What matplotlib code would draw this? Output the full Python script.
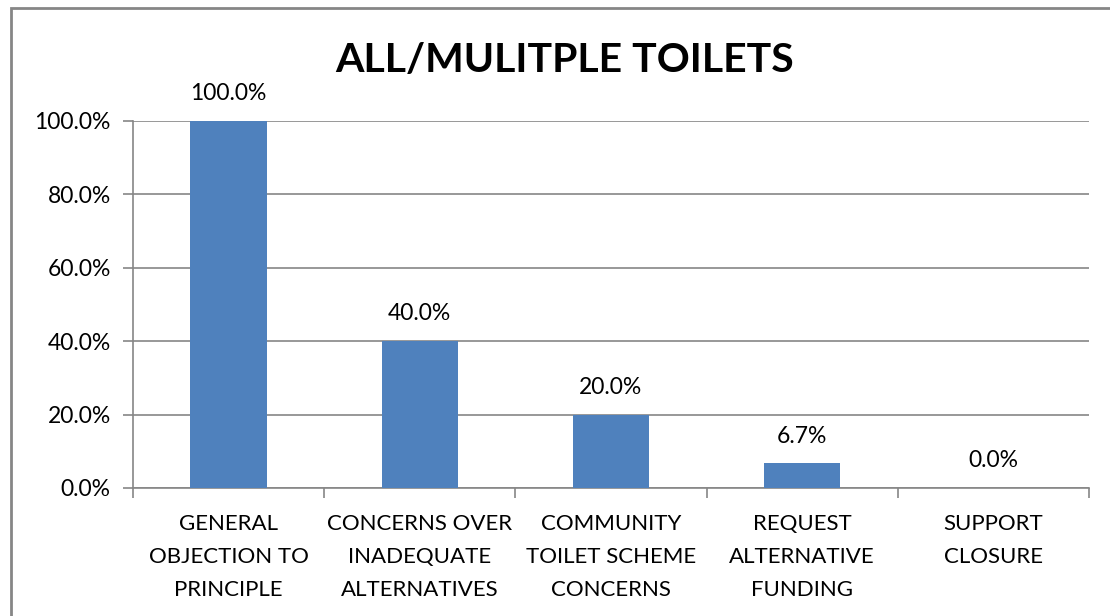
import matplotlib
matplotlib.use("Agg")
import matplotlib.pyplot as plt
from matplotlib.patches import Rectangle
import numpy as np

plt.rcParams['font.family'] = ['Lato', 'DejaVu Sans']

categories = ["GENERAL\nOBJECTION TO\nPRINCIPLE",
              "CONCERNS OVER\nINADEQUATE\nALTERNATIVES",
              "COMMUNITY\nTOILET SCHEME\nCONCERNS",
              "REQUEST\nALTERNATIVE\nFUNDING",
              "SUPPORT\nCLOSURE"]
values = [100.0, 40.0, 20.0, 6.7, 0.0]
yticks = [0, 20, 40, 60, 80, 100]

W, H = 1110, 616
fig = plt.figure(figsize=(W / 100, H / 100), dpi=100)
ax = fig.add_axes([133 / W, (H - 488) / H, (1089 - 133) / W, (488 - 120.7) / H])

grey = "#868686"
x = np.arange(len(values))
ax.bar(x, values, width=0.4, color="#4F81BD", zorder=3)

for xi, v in zip(x, values):
    ax.annotate(f"{v:.1f}%", (xi, v), xytext=(0, 12), textcoords="offset points",
                ha="center", va="bottom", fontsize=16.5)

ax.set_xlim(-0.5, len(values) - 0.5)
ax.set_ylim(0, 100)
ax.set_yticks(yticks)
ax.set_yticklabels([f"{t:.1f}%" for t in yticks], fontsize=16.5)
ax.yaxis.grid(True, color=grey, linewidth=1.2, zorder=0)

ax.set_xticks(x)
ax.set_xticklabels(categories, fontsize=16, linespacing=1.8)
ax.tick_params(axis="x", which="major", length=0, pad=19)
ax.set_xticks(np.arange(len(values) + 1) - 0.5, minor=True)
ax.tick_params(axis="x", which="minor", length=7, width=1.2, color=grey)
ax.tick_params(axis="y", length=7, width=1.2, color=grey, pad=9)

for s in ["top", "right"]:
    ax.spines[s].set_visible(False)
for s in ["left", "bottom"]:
    ax.spines[s].set_color(grey)
    ax.spines[s].set_linewidth(1.2)

fig.text(565 / W, 1 - 60 / H, "ALL/MULITPLE TOILETS", ha="center", va="center",
         fontsize=29.5, fontweight="bold")

# chart frame, clipped at the right and bottom edges
fig.add_artist(Rectangle((10.5 / W, -0.1), 1.2, (H - 8) / H + 0.1,
                         transform=fig.transFigure, fill=False,
                         edgecolor=grey, linewidth=2))

fig.savefig("out.png", dpi=100)
